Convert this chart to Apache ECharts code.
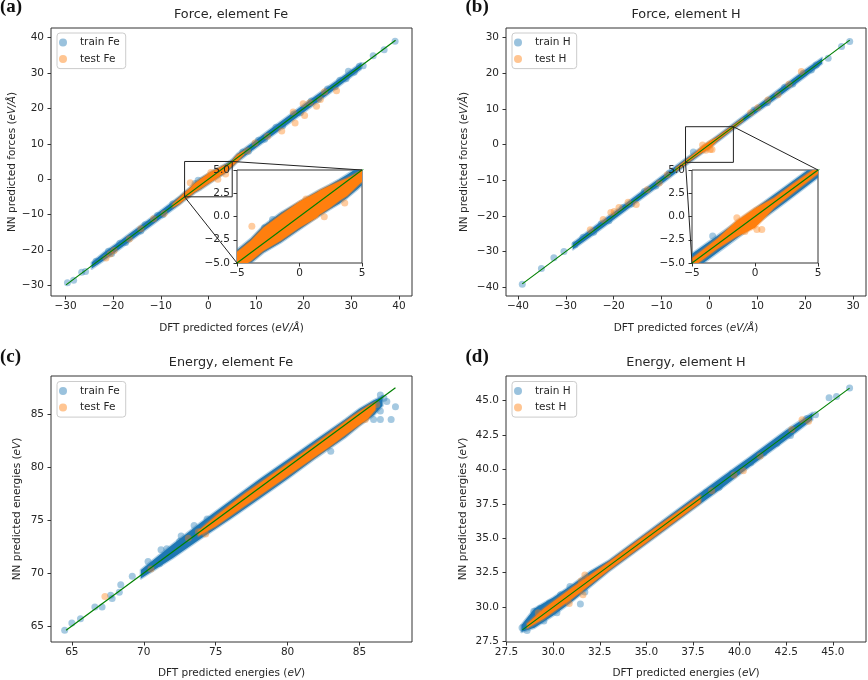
<!DOCTYPE html>
<html><head><meta charset="utf-8">
<script src="https://cdn.jsdelivr.net/npm/echarts/dist/echarts.min.js"></script>
<style>html,body{margin:0;padding:0;background:#fff}#c{width:868px;height:680px}</style>
</head><body><div id="c"></div>
<script>
// ---------- DATA ----------
// (a) Force, element Fe
const ticksA = [-30, -20, -10, 0, 10, 20, 30, 40];
const rangeA = [-33.05, 42.75];
const lineA = [[-29.9, -29.9], [39.3, 39.3]];
const trainBandA = [[-24.5,-25.3,-23.6],[-22,-23.0,-20.8],[-19,-20.1,-17.9],[-16,-17.1,-14.9],[-12,-13.1,-10.9],[-8,-9.1,-6.9],[-6,-7.1,-4.8],[-5,-6.0,-3.6],[-3.9,-5.0,-2.4],[-2.9,-3.9,-1.0],[-1.5,-2.8,0.4],[0,-1.4,1.6],[1.4,-0.1,2.7],[2.4,0.75,3.4],[3.2,1.4,4.0],[3.8,2.0,4.5],[4.6,2.9,5.2],[5,3.4,5.6],[6,4.8,7.1],[9,7.9,10.1],[13,11.9,14.1],[17,15.9,18.1],[21,19.9,22.1],[25,23.9,26.0],[29,28.0,29.9],[32,31.1,32.8]];
const testBandA = [[-7.5,-8.0,-7.0],[-6,-6.9,-5.1],[-5,-5.8,-3.8],[-4.7,-5.5,-3.5],[-3.9,-4.8,-2.6],[-2.9,-3.7,-1.2],[-1.5,-2.6,0.2],[0,-1.2,1.6],[1.4,-0.1,2.6],[1.6,0.2,2.8],[2.4,0.9,3.3],[3.2,1.7,3.8],[3.8,2.2,4.1],[4.8,3.5,4.8],[5,3.7,5.2],[6,4.9,6.8],[7.5,7.0,8.0]];
const trainPtsA = [[-29.6,-29.3],[-28.3,-28.6],[-26.6,-26.3],[-25.8,-26.1],[-23.6,-23.2],[-21.0,-20.4],[-20.3,-21.0],[-18.6,-18.1],[-17.4,-17.9],[-14.2,-14.7],[-13.3,-12.9],[-10.7,-10.3],[-9.6,-10.1],[-7.5,-7.0],[7.2,7.7],[8.4,7.9],[10.5,11.0],[11.8,11.3],[14.2,14.7],[15.6,15.1],[17.9,18.4],[19.3,18.8],[21.6,22.1],[23.1,22.6],[25.0,25.5],[26.6,26.1],[27.6,28.0],[28.9,28.4],[29.4,30.5],[30.6,30.2],[31.7,31.9],[32.5,32.1],[34.6,34.9],[36.9,36.6],[39.2,39.0],[-2.16,-0.32],[-2.80,-1.21]];
const testPtsA = [[26.9,25.0],[22.7,20.6],[23.5,22.5],[20.2,18.0],[19.9,21.3],[18.2,15.9],[15.4,13.6],[17.8,19.0],[24.4,24.7],[21.3,21.6],[12.4,12.1],[9.8,10.2],[8.2,8.0],[-9.3,-9.7],[-11.5,-11.2],[-14.2,-14.0],[-16.6,-16.9],[-19.8,-20.2],[-20.6,-21.2],[-21.5,-22.3],[-3.81,-1.04],[3.62,1.46],[1.98,-0.04],[0.52,1.89]];

// (b) Force, element H
const ticksB = [-40, -30, -20, -10, 0, 10, 20, 30];
const rangeB = [-42.5, 32.7];
const lineB = [[-39.1, -39.1], [29.3, 29.3]];
const trainBandB = [[-28.5,-29.4,-27.6],[-25,-26.0,-24.0],[-20,-21.0,-19.0],[-15,-16.0,-14.0],[-10,-11.0,-9.0],[-5,-5.9,-4.0],[-2.5,-3.4,-1.6],[0,-0.9,0.85],[2.5,1.6,3.3],[5,4.2,5.8],[10,9.1,10.9],[15,14.0,16.0],[20,19.0,21.0],[23.5,22.7,24.3]];
const testBandB = [[-7,-7.4,-6.6],[-5,-5.5,-4.5],[-3,-3.5,-2.4],[-1.5,-2.2,-0.5],[0,-1.2,0.9],[1.5,0.9,2.0],[3,2.5,3.5],[5,4.6,5.4],[7,6.6,7.4]];
const trainPtsB = [[-39.1,-39.2],[-35.1,-34.8],[-32.5,-31.8],[-30.4,-30.0],[-28.1,-28.1],[-26.4,-26.0],[-24.2,-24.6],[-22.6,-22.2],[-21.0,-21.4],[-18.1,-17.7],[-16.3,-16.7],[-13.6,-13.2],[-11.2,-11.6],[-8.4,-8.0],[9.3,9.7],[12.1,11.7],[15.7,16.1],[17.4,17.0],[19.6,20.0],[21.3,20.9],[22.3,22.3],[24.8,24.2],[27.6,27.5],[29.3,28.9],[-3.36,-2.1]];
const testPtsB = [[-24.9,-23.9],[-22.2,-21.0],[-20.6,-19.1],[-19.9,-18.8],[-18.9,-17.7],[-17.0,-16.2],[-15.3,-16.8],[-13.0,-12.7],[-10.5,-10.8],[-8.8,-8.5],[8.6,8.9],[10.1,10.3],[12.2,12.5],[14.3,14.0],[16.6,16.9],[19.2,20.5],[0.54,-1.39],[-1.44,-0.14],[0.15,-1.39],[-0.8,-1.6]];

// (c) Energy, element Fe
const ticksC = [65, 70, 75, 80, 85];
const rangeCx = [63.55, 88.65];
const rangeCy = [63.5, 88.6];
const lineC = [[64.6, 64.6], [87.5, 87.5]];
const trainBandC = [[69.8,69.5,70.3],[72,71.4,72.7],[74,73.3,74.8],[76,75.1,76.8],[78,77.0,78.8],[80,78.9,80.7],[82,80.9,82.6],[84,82.8,84.5],[85,83.9,85.5],[86,84.9,86.3],[86.6,85.8,86.7]];
const testBandC = [[73.8,73.5,74.0],[75,74.4,75.4],[77,76.3,77.5],[79,78.2,79.4],[81,80.1,81.3],[83,82.0,83.3],[84.5,83.5,84.8],[85.6,84.6,85.8],[86.1,85.4,86.1]];
const trainPtsC = [[64.5,64.6],[65.0,65.3],[65.6,65.7],[66.6,66.8],[67.1,66.8],[67.7,67.9],[67.8,67.6],[68.3,68.2],[68.4,68.9],[69.2,69.7],[70.3,71.1],[71.1,70.9],[71.2,72.2],[71.6,72.3],[72.5,73.0],[72.6,73.5],[73.5,74.5],[74.4,75.1],[83.0,81.5],[87.5,85.7],[87.2,84.5],[86.45,85.3],[86.45,84.5],[85.98,84.5],[86.45,86.8],[86.9,86.2],[86.7,86.5]];
const testPtsC = [[67.3,67.8],[70.5,70.4],[73.1,73.3],[73.8,73.9],[74.3,73.7],[85.4,84.5],[85.9,85.6],[86.2,85.9]];

// (d) Energy, element H
const ticksD = [27.5, 30, 32.5, 35, 37.5, 40, 42.5, 45];
const rangeD = [27.47, 46.78];
const lineD = [[28.35, 28.35], [45.9, 45.9]];
const trainBandD = [[28.3,28.2,28.7],[29,28.5,29.9],[30,29.4,30.7],[31,30.4,31.6],[32,31.5,32.6],[33,32.6,33.4],[35,34.6,35.4],[37.5,37.1,37.9],[39,38.6,39.4],[40.5,40.15,40.85],[42.5,42.15,42.85],[43.9,43.6,44.1]];
const testBandD = [[28.6,28.45,28.8],[29.5,29.15,29.9],[31,30.6,31.4],[33,32.7,33.3],[35,34.7,35.3],[37.9,37.6,38.1]];
const trainPtsD = [[28.33,28.5],[28.6,28.3],[28.96,29.7],[29.3,29.9],[29.8,30.3],[30.4,30.9],[29.5,29.0],[30.2,29.6],[31.46,30.22],[30.9,31.5],[31.7,31.1],[38.2,38.3],[38.9,38.7],[39.6,39.7],[40.6,40.5],[41.3,41.2],[42.0,41.9],[42.73,42.46],[43.6,43.7],[44.07,43.97],[44.8,45.2],[45.2,45.3],[45.9,45.9]];
const testPtsD = [[30.86,30.27],[31.6,30.9],[31.7,32.33],[31.5,31.9],[29.2,29.6],[38.5,38.45],[39.7,39.6],[40.2,39.9],[41.1,40.97],[42.8,42.9],[43.35,43.6],[43.7,43.5]];

// insets (zoomed region of a and b)
const zoomBox = [-5, 5];
const insetTicksX = [-5, 0, 5];
const insetTicksY = [-5, -2.5, 0, 2.5, 5];

// ---------- STYLE ----------
const FONT = 'DejaVu Sans';
const TXT = '#262626';
const BLUE = '#1f77b4', ORANGE = '#ff7f0e', GREEN = '#008000', FRAME = '#333';
const FS = 10.5;
const minus = s => String(s).replace('-', '\u2212');
const fmtInt = v => minus(Math.round(v));
const fmt1 = v => minus((Math.round(v * 10) / 10).toFixed(1));

const chart = echarts.init(document.getElementById('c'), null, {renderer: 'canvas'});

function gridDef(left, top, width, height, inset) {
  return {left, top, width, height, show: true, borderColor: FRAME, borderWidth: 1,
    backgroundColor: inset ? '#fff' : 'transparent', z: inset ? 10 : 0, containLabel: false};
}
const grids = [
  gridDef(51, 28, 361, 268),
  gridDef(506, 28, 360, 268),
  gridDef(51, 376, 361, 268),
  gridDef(506, 376, 360, 268),
  gridDef(237, 170, 125, 93, true),
  gridDef(692, 170, 126, 93, true)
];

function axisDef(dim, gi, range, ticks, fmt, name, gap, inset) {
  const a = {
    type: 'value', gridIndex: gi, min: range[0], max: range[1], z: inset ? 12 : 0,
    axisLine: {show: false, onZero: false},
    axisTick: {show: true, length: 3.5, inside: false, customValues: ticks, lineStyle: {color: FRAME, width: 1}},
    axisLabel: {customValues: ticks, formatter: fmt, fontSize: FS, color: TXT, fontFamily: FONT, margin: dim === 'x' ? 5 : 7},
    splitLine: {show: false}
  };
  if (name) {
    a.name = name;
    a.nameLocation = 'middle';
    a.nameGap = gap;
    if (dim === 'y') a.nameRotate = 90;
    a.nameTextStyle = {fontSize: FS, color: TXT, fontFamily: FONT,
      rich: {i: {fontStyle: 'italic', fontSize: FS, color: TXT, fontFamily: FONT}}};
  }
  return a;
}

const xAxes = [
  axisDef('x', 0, rangeA, ticksA, fmtInt, 'DFT predicted forces ({i|eV/Å})', 27),
  axisDef('x', 1, rangeB, ticksB, fmtInt, 'DFT predicted forces ({i|eV/Å})', 27),
  axisDef('x', 2, rangeCx, ticksC, fmtInt, 'DFT predicted energies ({i|eV})', 26),
  axisDef('x', 3, rangeD, ticksD, fmt1, 'DFT predicted energies ({i|eV})', 26),
  axisDef('x', 4, zoomBox, insetTicksX, fmtInt, null, 0, true),
  axisDef('x', 5, zoomBox, insetTicksX, fmtInt, null, 0, true)
];
const yAxes = [
  axisDef('y', 0, rangeA, ticksA, fmtInt, 'NN predicted forces ({i|eV/Å})', 33.5),
  axisDef('y', 1, rangeB, ticksB, fmtInt, 'NN predicted forces ({i|eV/Å})', 36.5),
  axisDef('y', 2, rangeCy, ticksC, fmtInt, 'NN predicted energies ({i|eV})', 28),
  axisDef('y', 3, rangeD, ticksD, fmt1, 'NN predicted energies ({i|eV})', 37.5),
  axisDef('y', 4, zoomBox, insetTicksY, fmt1, null, 0, true),
  axisDef('y', 5, zoomBox, insetTicksY, fmt1, null, 0, true)
];

function band(rows, color, ai, z) {
  return {
    type: 'custom', xAxisIndex: ai, yAxisIndex: ai, clip: true, z, silent: true,
    data: rows, encode: {x: 0, y: [1, 2]},
    renderItem: function (params, api) {
      if (params.dataIndex !== 0) return null;
      const up = rows.map(r => api.coord([r[0], r[2]]));
      const dn = rows.map(r => api.coord([r[0], r[1]])).reverse();
      const pts = up.concat(dn);
      return {type: 'group', children: [
        {type: 'polygon', shape: {points: pts}, style: {fill: 'none', stroke: color, lineWidth: 2.5, opacity: 0.35, lineJoin: 'round'}},
        {type: 'polygon', shape: {points: pts}, style: {fill: color, opacity: 1}}
      ]};
    }
  };
}
function scatter(name, data, color, ai, z) {
  return {type: 'scatter', name, data, xAxisIndex: ai, yAxisIndex: ai, symbol: 'circle', symbolSize: 7,
    itemStyle: {color, opacity: 0.4}, z, silent: true};
}
function diag(data, ai, z) {
  return {type: 'line', data, xAxisIndex: ai, yAxisIndex: ai, symbol: 'none', z, silent: true,
    lineStyle: {color: GREEN, width: 1.2}, clip: true};
}
function boxLine(ai) {
  const lo = zoomBox[0], hi = zoomBox[1];
  return {type: 'line', data: [[lo, lo], [hi, lo], [hi, hi], [lo, hi], [lo, lo]], xAxisIndex: ai, yAxisIndex: ai,
    symbol: 'none', z: 6, silent: true, lineStyle: {color: '#222', width: 1}};
}

function panel(ai, z0, trBand, teBand, trPts, tePts, line, trName, teName) {
  return [
    band(trBand, BLUE, ai, z0),
    scatter(trName, trPts, BLUE, ai, z0),
    band(teBand, ORANGE, ai, z0 + 1),
    scatter(teName, tePts, ORANGE, ai, z0 + 1),
    diag(line, ai, z0 + 2)
  ];
}

const series = [].concat(
  panel(0, 2, trainBandA, testBandA, trainPtsA, testPtsA, lineA, 'train Fe', 'test Fe'),
  panel(1, 2, trainBandB, testBandB, trainPtsB, testPtsB, lineB, 'train H', 'test H'),
  panel(2, 2, trainBandC, testBandC, trainPtsC, testPtsC, lineC, 'train Fe', 'test Fe'),
  panel(3, 2, trainBandD, testBandD, trainPtsD, testPtsD, lineD, 'train H', 'test H'),
  [boxLine(0), boxLine(1)],
  panel(4, 11, trainBandA, testBandA, trainPtsA, testPtsA, lineA, 'train Fe', 'test Fe'),
  panel(5, 11, trainBandB, testBandB, trainPtsB, testPtsB, lineB, 'train H', 'test H')
);

function legendDef(left, top, names) {
  return {left, top, orient: 'vertical', icon: 'circle', itemWidth: 24, itemHeight: 8, itemGap: 3.6,
    padding: [3, 6, 3, 2], backgroundColor: 'rgba(255,255,255,0.85)', borderColor: '#cccccc', borderWidth: 1, borderRadius: 3,
    selectedMode: false,
    textStyle: {fontSize: FS, color: TXT, fontFamily: FONT, lineHeight: 13},
    data: names.map(n => ({name: n, itemStyle: {opacity: 0.45}}))};
}

function titleDef(text, cx, top) {
  return {text, left: cx, top, textAlign: 'center', textVerticalAlign: 'top', padding: 0,
    textStyle: {fontSize: 12.8, fontWeight: 'normal', color: TXT, fontFamily: FONT}};
}
function tagDef(text, left, top) {
  return {text, left, top, textAlign: 'left', textVerticalAlign: 'top', padding: 0,
    textStyle: {fontSize: 19, fontWeight: 'bold', color: '#111', fontFamily: 'Liberation Serif'}};
}

chart.setOption({
  animation: false,
  backgroundColor: '#fff',
  title: [
    titleDef('Force, element Fe', 231, 8.5),
    titleDef('Force, element H', 686, 8.5),
    titleDef('Energy, element Fe', 231, 356.5),
    titleDef('Energy, element H', 686, 356.5),
    tagDef('(a)', 0, -2), tagDef('(b)', 465.5, -2), tagDef('(c)', 0, 347.5), tagDef('(d)', 465.5, 347.5)
  ],
  legend: [
    legendDef(57, 33, ['train Fe', 'test Fe']),
    legendDef(512, 33, ['train H', 'test H']),
    legendDef(57, 381.5, ['train Fe', 'test Fe']),
    legendDef(512, 381.5, ['train H', 'test H'])
  ],
  grid: grids,
  xAxis: xAxes,
  yAxis: yAxes,
  series
});

// connector lines between zoom box (main axes) and inset corners (inset axes)
function connectors(mainIdx, insetIdx) {
  const lo = zoomBox[0], hi = zoomBox[1];
  const m1 = chart.convertToPixel({xAxisIndex: mainIdx, yAxisIndex: mainIdx}, [hi, hi]);
  const i1 = chart.convertToPixel({xAxisIndex: insetIdx, yAxisIndex: insetIdx}, [hi, hi]);
  const m2 = chart.convertToPixel({xAxisIndex: mainIdx, yAxisIndex: mainIdx}, [lo, lo]);
  const i2 = chart.convertToPixel({xAxisIndex: insetIdx, yAxisIndex: insetIdx}, [lo, lo]);
  const st = {stroke: '#222', lineWidth: 1};
  return [
    {type: 'line', shape: {x1: m1[0], y1: m1[1], x2: i1[0], y2: i1[1]}, style: st, z: 20, silent: true},
    {type: 'line', shape: {x1: m2[0], y1: m2[1], x2: i2[0], y2: i2[1]}, style: st, z: 20, silent: true}
  ];
}
chart.setOption({graphic: [].concat(connectors(0, 4), connectors(1, 5))});
</script></body></html>
